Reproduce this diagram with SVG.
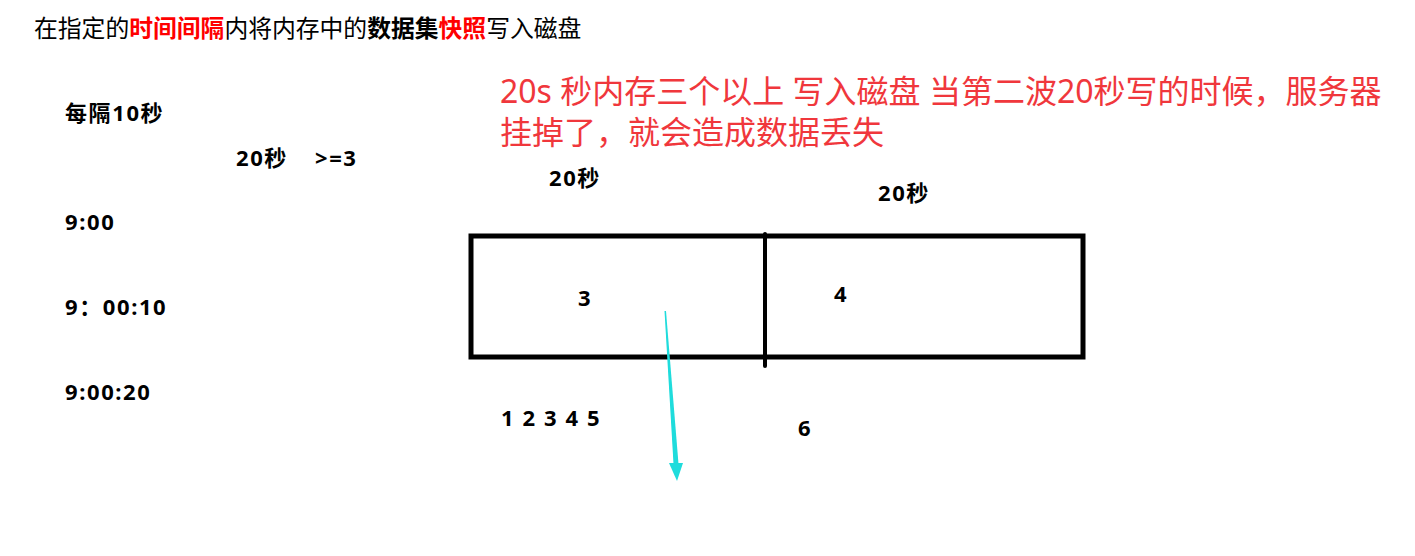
<svg xmlns="http://www.w3.org/2000/svg" width="1415" height="556" viewBox="0 0 1415 556">
<style>
.t{font-family:"Noto Sans","Noto Sans CJK SC",sans-serif;}
.b{font-family:"Noto Sans","Noto Sans CJK SC",sans-serif;font-weight:bold;font-size:22px;letter-spacing:1.6px;fill:#000;}
.red{font-family:"Noto Sans","Noto Sans CJK SC",sans-serif;font-size:32px;fill:#f0373c;}
</style>
<rect width="1415" height="556" fill="#fff"/>
<g id="title">
<text class="t" x="34" y="37" font-size="23.8" fill="#000">在指定的<tspan font-weight="bold" fill="#ff0000">时间间隔</tspan>内将内存中的<tspan font-weight="bold">数据集</tspan><tspan font-weight="bold" fill="#ff0000">快照</tspan>写入磁盘</text>
</g>
<g id="note">
<text class="red" x="500" y="103">20s 秒内存三个以上 写入磁盘 当第二波20秒写的时候，服务器</text>
<text class="red" x="500" y="144">挂掉了，就会造成数据丢失</text>
</g>
<g id="labels">
<text class="b" x="65" y="121">每隔10秒</text>
<text class="b" x="236" y="166">20秒</text>
<text class="b" x="315" y="166" letter-spacing="4">&gt;=3</text>
<text class="b" x="65" y="230">9:00</text>
<text class="b" x="65" y="315">9：00:10</text>
<text class="b" x="65" y="400">9:00:20</text>
<text class="b" x="549" y="186">20秒</text>
<text class="b" x="878" y="201">20秒</text>
<text class="b" x="501" y="426" letter-spacing="2.4">1 2 3 4 5</text>
<text class="b" x="798" y="436">6</text>
</g>
<g id="buffer">
<rect x="471" y="236" width="612" height="121" fill="none" stroke="#000" stroke-width="5"/>
<line x1="765" y1="234" x2="765" y2="366" stroke="#000" stroke-width="4" stroke-linecap="round"/>
<text class="b" x="578" y="306">3</text>
<text class="b" x="834" y="302">4</text>
</g>
<g id="connectors">
<polygon points="664.5,311 666,311 678.5,464 673.5,464" fill="#1fdcdc"/>
<polygon points="669,463 683,463 677,481" fill="#1fdcdc"/>
</g>
</svg>
